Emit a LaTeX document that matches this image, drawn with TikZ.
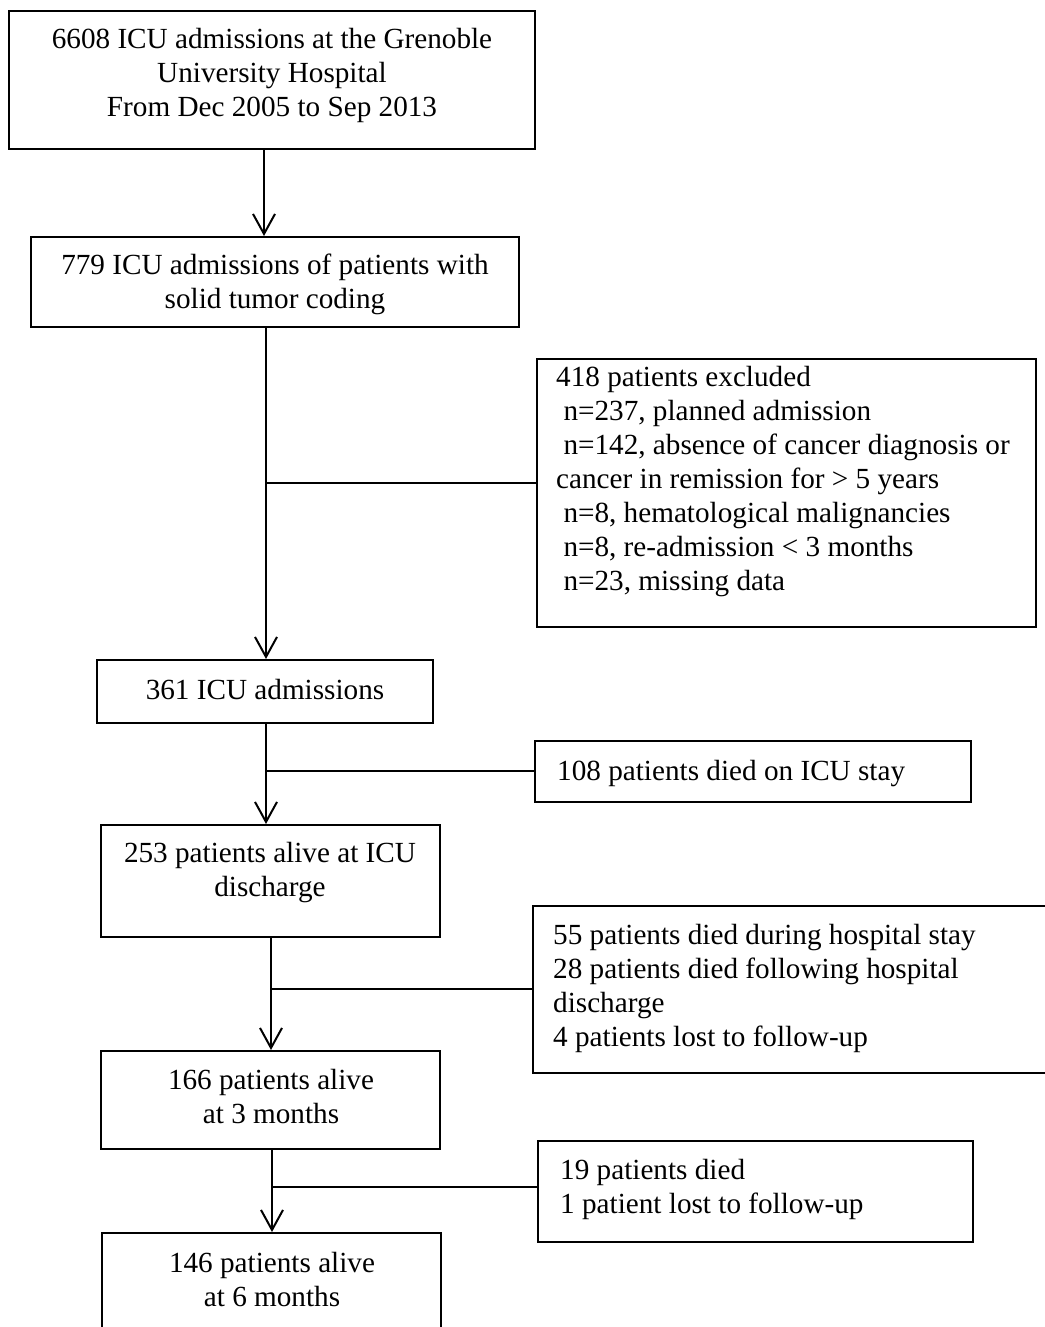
\documentclass[tikz,border=0pt]{standalone}
\usepackage{fontspec}
\setmainfont{Liberation Serif}
\usetikzlibrary{arrows.meta}

\begin{document}
\begin{tikzpicture}[x=1pt,y=-1pt,
    box/.style={draw=black,line width=2pt,inner sep=0pt},
    txt/.style={font=\fontsize{29.2}{34}\selectfont,inner sep=0pt},
    link/.style={line width=2pt},
    arr/.style={line width=2pt,-{Straight Barb[length=20pt,width=22pt]}}]
  \useasboundingbox (0,0) rectangle (1044,1327);

  % main column
  \node[box,minimum width=526pt,minimum height=138pt] (adm) at (272,80) {};
  \node[box,minimum width=488pt,minimum height=90pt] (solid) at (275,282) {};
  \node[box,minimum width=336pt,minimum height=63pt] (icu) at (265,691.5) {};
  \node[box,minimum width=339pt,minimum height=112pt] (alive253) at (270.5,881) {};
  \node[box,minimum width=339pt,minimum height=98pt] (alive166) at (270.5,1100) {};
  \node[box,minimum width=339pt,minimum height=98pt] (alive146) at (271.5,1282) {};

  % side boxes
  \node[box,minimum width=499pt,minimum height=268pt] (excl) at (786.5,493) {};
  \node[box,minimum width=436pt,minimum height=61pt] (died108) at (753,771.5) {};
  \node[box,minimum width=519pt,minimum height=167pt] (died55) at (792.5,989.5) {};
  \node[box,minimum width=435pt,minimum height=101pt] (died19) at (755.5,1191.5) {};

  % texts (base = last line)
  \node[txt,align=center,anchor=base] (adm-t) at (272,117)
    {6608 ICU admissions at the Grenoble\\University Hospital\\From Dec 2005 to Sep 2013};
  \node[txt,align=center,anchor=base] (solid-t) at (275,308)
    {779 ICU admissions of patients with\\solid tumor coding};
  \node[txt,align=center,anchor=base] (icu-t) at (265,699) {361 ICU admissions};
  \node[txt,align=center,anchor=base] (alive253-t) at (270,896)
    {253 patients alive at ICU\\discharge};
  \node[txt,align=center,anchor=base] (alive166-t) at (271,1123)
    {166 patients alive\\at 3 months};
  \node[txt,align=center,anchor=base] (alive146-t) at (272,1306)
    {146 patients alive\\at 6 months};
  \node[txt,align=left,anchor=base west] (excl-t) at (556,590)
    {418 patients excluded\\
     \hspace*{0.25em}n=237, planned admission\\
     \hspace*{0.25em}n=142, absence of cancer diagnosis or\\
     cancer in remission for > 5 years\\
     \hspace*{0.25em}n=8, hematological malignancies\\
     \hspace*{0.25em}n=8, re-admission < 3 months\\
     \hspace*{0.25em}n=23, missing data};
  \node[txt,align=left,anchor=base west] (died108-t) at (557,780)
    {108 patients died on ICU stay};
  \node[txt,align=left,anchor=base west] (died55-t) at (553,1046)
    {55 patients died during hospital stay\\
     28 patients died following hospital\\
     discharge\\
     4 patients lost to follow-up};
  \node[txt,align=left,anchor=base west] (died19-t) at (560,1213)
    {19 patients died\\1 patient lost to follow-up};

  % trunk lines and branch points
  \coordinate (t1) at (264,0);
  \coordinate (t2) at (266,0);
  \coordinate (t3) at (271,0);
  \coordinate (t4) at (272,0);
  \coordinate (b1) at (266,483);
  \coordinate (b2) at (266,771);
  \coordinate (b3) at (271,989);
  \coordinate (b4) at (272,1187);

  \draw[arr] (adm.south -| t1) -- (solid.north -| t1);
  \draw[arr] (solid.south -| t2) -- (icu.north -| t2);
  \draw[arr] (icu.south -| t2) -- (alive253.north -| t2);
  \draw[arr] (alive253.south -| t3) -- (alive166.north -| t3);
  \draw[arr] (alive166.south -| t4) -- (alive146.north -| t4);

  \draw[link] (b1) -- (b1 -| excl.west);
  \draw[link] (b2) -- (b2 -| died108.west);
  \draw[link] (b3) -- (b3 -| died55.west);
  \draw[link] (b4) -- (b4 -| died19.west);
\end{tikzpicture}
\end{document}
